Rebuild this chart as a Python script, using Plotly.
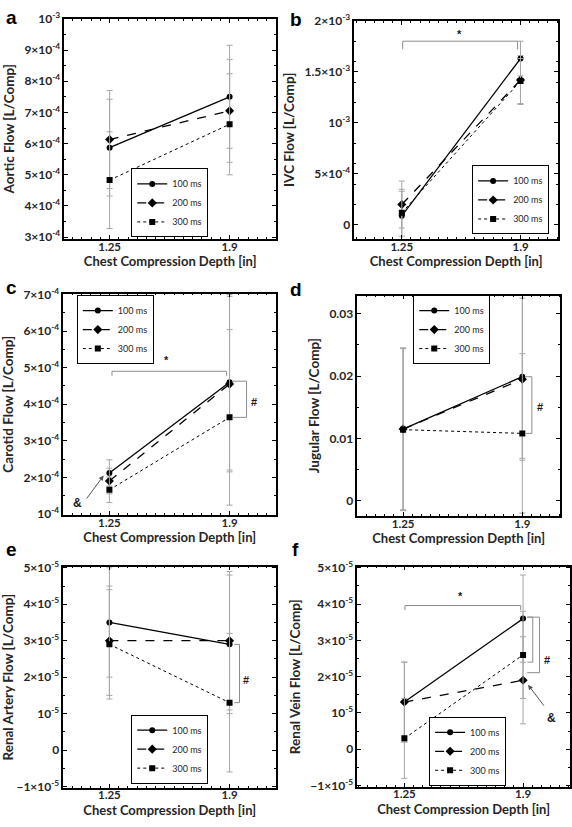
import plotly.graph_objects as go

# ---------------- data ----------------
depth = [1.25, 1.9]
series_names = ["100 ms", "200 ms", "300 ms"]

aortic_100 = [5.87e-4, 7.50e-4]
aortic_200 = [6.13e-4, 7.05e-4]
aortic_300 = [4.83e-4, 6.62e-4]
aortic_err_100 = [1.55e-4, 1.65e-4]
aortic_err_200 = [1.57e-4, 1.65e-4]
aortic_err_300 = [1.55e-4, 1.62e-4]

ivc_100 = [0.9e-4, 1.63e-3]
ivc_200 = [2.0e-4, 1.42e-3]
ivc_300 = [1.2e-4, 1.41e-3]
ivc_err_100 = [2.4e-4, 0.17e-3]
ivc_err_200 = [2.3e-4, 0.24e-3]
ivc_err_300 = [2.3e-4, 0.22e-3]

carotid_100 = [2.12e-4, 4.60e-4]
carotid_200 = [1.90e-4, 4.55e-4]
carotid_300 = [1.66e-4, 3.64e-4]
carotid_err_100 = [0.36e-4, 2.4e-4]
carotid_err_200 = [0.35e-4, 2.4e-4]
carotid_err_300 = [0.35e-4, 2.4e-4]

jugular_100 = [0.0115, 0.0199]
jugular_200 = [0.0115, 0.0195]
jugular_300 = [0.0114, 0.0108]
jugular_err_100 = [0.013, 0.0131]
jugular_err_200 = [0.013, 0.013]
jugular_err_300 = [0.013, 0.0128]

rart_100 = [3.5e-5, 2.9e-5]
rart_200 = [3.0e-5, 3.0e-5]
rart_300 = [2.9e-5, 1.3e-5]
rart_err_100 = [1.5e-5, 1.9e-5]
rart_err_200 = [1.5e-5, 1.9e-5]
rart_err_300 = [1.5e-5, 1.9e-5]

rvein_100 = [1.3e-5, 3.6e-5]
rvein_200 = [1.3e-5, 1.9e-5]
rvein_300 = [0.3e-5, 2.6e-5]
rvein_err_100 = [1.1e-5, 1.2e-5]
rvein_err_200 = [1.1e-5, 1.2e-5]
rvein_err_300 = [1.1e-5, 1.2e-5]

y_titles = ["Aortic Flow [L/Comp]", "IVC Flow [L/Comp]", "Carotid Flow [L/Comp]",
            "Jugular Flow [L/Comp]", "Renal Artery Flow [L/Comp]", "Renal Vein Flow [L/Comp]"]
x_title = "Chest Compression Depth [in]"
panel_letters = ["a", "b", "c", "d", "e", "f"]

a_tickvals = [3e-4, 4e-4, 5e-4, 6e-4, 7e-4, 8e-4, 9e-4, 1e-3]
a_ticktext = ["3×10<sup>-4</sup>", "4×10<sup>-4</sup>", "5×10<sup>-4</sup>", "6×10<sup>-4</sup>",
              "7×10<sup>-4</sup>", "8×10<sup>-4</sup>", "9×10<sup>-4</sup>", "10<sup>-3</sup>"]
b_tickvals = [0, 5e-4, 1e-3, 1.5e-3, 2e-3]
b_ticktext = ["0", "5×10<sup>-4</sup>", "10<sup>-3</sup>", "1.5×10<sup>-3</sup>", "2×10<sup>-3</sup>"]
c_tickvals = [1e-4, 2e-4, 3e-4, 4e-4, 5e-4, 6e-4, 7e-4]
c_ticktext = ["10<sup>-4</sup>", "2×10<sup>-4</sup>", "3×10<sup>-4</sup>", "4×10<sup>-4</sup>",
              "5×10<sup>-4</sup>", "6×10<sup>-4</sup>", "7×10<sup>-4</sup>"]
d_tickvals = [0, 0.01, 0.02, 0.03]
d_ticktext = ["0", "0.01", "0.02", "0.03"]
ef_tickvals = [-1e-5, 0, 1e-5, 2e-5, 3e-5, 4e-5, 5e-5]
ef_ticktext = ["−1×10<sup>-5</sup>", "0", "10<sup>-5</sup>", "2×10<sup>-5</sup>", "3×10<sup>-5</sup>",
               "4×10<sup>-5</sup>", "5×10<sup>-5</sup>"]
x_tickvals = [1.25, 1.9]
x_ticktext = ["1.25", "1.9"]

panels = [
    dict(vals=[aortic_100, aortic_200, aortic_300], errs=[aortic_err_100, aortic_err_200, aortic_err_300],
         xr=[1.005, 2.152], yr=[2.95e-4, 1.0e-3], tv=a_tickvals, tt=a_ticktext,
         dx=[60, 274], dy=[10, 234], leg=(166.5, 197.5)),
    dict(vals=[ivc_100, ivc_200, ivc_300], errs=[ivc_err_100, ivc_err_200, ivc_err_300],
         xr=[0.990, 2.106], yr=[-1.35e-4, 2.0e-3], tv=b_tickvals, tt=b_ticktext,
         dx=[353, 559], dy=[12, 234], leg=(511, 194.5)),
    dict(vals=[carotid_100, carotid_200, carotid_300], errs=[carotid_err_100, carotid_err_200, carotid_err_300],
         xr=[1.001, 2.152], yr=[0.98e-4, 7.02e-4], tv=c_tickvals, tt=c_ticktext,
         dx=[59, 274], dy=[290, 515], leg=(111.5, 326.5)),
    dict(vals=[jugular_100, jugular_200, jugular_300], errs=[jugular_err_100, jugular_err_200, jugular_err_300],
         xr=[1.0, 2.106], yr=[-0.0024, 0.0329], tv=d_tickvals, tt=d_ticktext,
         dx=[356, 561], dy=[292, 516], leg=(451.5, 326.5)),
    dict(vals=[rart_100, rart_200, rart_300], errs=[rart_err_100, rart_err_200, rart_err_300],
         xr=[1.001, 2.152], yr=[-1.03e-5, 5.03e-5], tv=ef_tickvals, tt=ef_ticktext,
         dx=[59, 274], dy=[568, 793], leg=(166.5, 753.8)),
    dict(vals=[rvein_100, rvein_200, rvein_300], errs=[rvein_err_100, rvein_err_200, rvein_err_300],
         xr=[0.992, 2.157], yr=[-1.03e-5, 5.03e-5], tv=ef_tickvals, tt=ef_ticktext,
         dx=[356, 571], dy=[568, 792], leg=(467.5, 756)),
]

W, H = 572, 827
FONT = "Lato"
MARKFONT = "Liberation Sans"
TXT = "#262626"
GRAY = "#8c8c8c"

symbols = ["circle", "diamond", "square"]
msizes = [6, 7, 6]
dashes = ["solid", "dash", "dot"]
lwidths = [1.3, 1.3, 1.0]

fig = go.Figure()
layout = dict(width=W, height=H, margin=dict(l=0, r=0, t=0, b=0),
              plot_bgcolor="white", paper_bgcolor="white",
              font=dict(family=FONT, color=TXT), showlegend=True)
annotations = []
shapes = []

for i, p in enumerate(panels):
    n = "" if i == 0 else str(i + 1)
    xa, ya = "x" + n, "y" + n
    legname = "legend" + n
    bottom_row = i >= 4
    for k in range(3):
        fig.add_trace(go.Scatter(
            x=depth, y=p["vals"][k], name=series_names[k], xaxis=xa, yaxis=ya,
            mode="lines+markers", legend=legname,
            line=dict(color="black", width=lwidths[k], dash=dashes[k]),
            marker=dict(symbol=symbols[k], size=msizes[k], color="black"),
            error_y=dict(type="data", array=p["errs"][k], symmetric=True,
                         color="#a6a6a6", thickness=1, width=3),
            cliponaxis=True,
        ))
    axis_common = dict(showline=True, linecolor="black", linewidth=1.5, mirror="allticks",
                       ticks="inside", ticklen=4, tickcolor="black", tickwidth=1,
                       showgrid=False, zeroline=False)
    layout["xaxis" + n] = dict(
        axis_common, domain=[p["dx"][0] / W, p["dx"][1] / W], range=p["xr"], anchor=ya,
        tickmode="array", tickvals=x_tickvals, ticktext=x_ticktext,
        tickfont=dict(family=FONT, size=11.5, color=TXT, weight="bold"),
        ticklabelstandoff=-4 if bottom_row else -3,
        minor=dict(ticks="inside", ticklen=2, tickcolor="black", dtick=0.05, tick0=1.25),
        title=dict(text=x_title, font=dict(family=FONT, size=13, color=TXT, weight="bold"),
                   standoff=6 if bottom_row else 3),
    )
    layout["yaxis" + n] = dict(
        axis_common, domain=[1 - p["dy"][1] / H, 1 - p["dy"][0] / H], range=p["yr"], anchor=xa,
        tickmode="array", tickvals=p["tv"], ticktext=p["tt"],
        tickfont=dict(family=FONT, size=12, color=TXT, weight="bold"),
        minor=dict(ticks="inside", ticklen=2, tickcolor="black", nticks=3),
        title=dict(text=y_titles[i], font=dict(family=FONT, size=13.5, color=TXT, weight="bold"), standoff=7),
    )
    layout[legname] = dict(
        x=p["leg"][0] / W, y=1 - p["leg"][1] / H, xanchor="center", yanchor="middle",
        bordercolor="black", borderwidth=1, bgcolor="white",
        font=dict(family=FONT, size=9, color=TXT), itemwidth=30, tracegroupgap=0,
    )
    # panel letter
    lx = 7 if p["dx"][0] < 200 else 294
    ly = p["dy"][0] - 1 if i < 2 else p["dy"][0] - 6 if i < 4 else p["dy"][0] - 18
    annotations.append(dict(text=panel_letters[i], x=lx / W, y=1 - ly / H, xref="paper", yref="paper",
                            showarrow=False, xanchor="center", yanchor="middle",
                            font=dict(family=MARKFONT, size=19, color="black", weight="bold")))


def bracket(n, x0, x1, y0, y1, ytop):
    """Open bracket drawn in data coordinates of subplot n."""
    shapes.append(dict(type="path", xref="x" + n, yref="y" + n,
                       path=f"M {x0},{y0} L {x0},{ytop} L {x1},{ytop} L {x1},{y1}",
                       line=dict(color=GRAY, width=1)))


def side_bracket(n, x0, x1, ytop, ybot):
    shapes.append(dict(type="path", xref="x" + n, yref="y" + n,
                       path=f"M {x0},{ytop} L {x1},{ytop} L {x1},{ybot} L {x0},{ybot}",
                       line=dict(color=GRAY, width=1)))


def label(n, text, x, y, size=11):
    annotations.append(dict(text=text, x=x, y=y, xref="x" + n, yref="y" + n, showarrow=False,
                            font=dict(family=MARKFONT, size=size, color="#1a1a1a", weight="bold")))


def arrow_label(n, text, x, y, tipx, tipy, tailx, taily):
    label(n, text, x, y, size=12)
    annotations.append(dict(text="", x=tipx, y=tipy, ax=tailx, ay=taily,
                            xref="x" + n, yref="y" + n, axref="x" + n, ayref="y" + n,
                            showarrow=True, arrowhead=2, arrowsize=1, arrowwidth=1, arrowcolor="#555555"))


# panel b
bracket("2", 1.255, 1.884, 1.72e-3, 1.72e-3, 1.80e-3)
label("2", "*", 1.564, 1.87e-3)
# panel c
bracket("3", 1.264, 1.884, 4.78e-4, 4.78e-4, 4.90e-4)
label("3", "*", 1.557, 5.22e-4)
side_bracket("3", 1.917, 1.992, 4.63e-4, 3.64e-4)
label("3", "#", 2.034, 4.07e-4)
arrow_label("3", "&", 1.075, 1.3e-4, 1.219, 2.05e-4, 1.121, 1.38e-4)
# panel d
side_bracket("4", 1.92, 1.952, 0.0199, 0.0108)
label("4", "#", 1.995, 0.0151)
# panel e
side_bracket("5", 1.925, 1.954, 2.9e-5, 1.3e-5)
label("5", "#", 1.991, 1.91e-5)
# panel f
bracket("6", 1.253, 1.887, 3.83e-5, 3.83e-5, 3.96e-5)
label("6", "*", 1.557, 4.22e-5)
side_bracket("6", 1.923, 1.953, 3.64e-5, 2.4e-5)
side_bracket("6", 1.923, 1.99, 3.64e-5, 2.11e-5)
label("6", "#", 2.03, 2.47e-5)
arrow_label("6", "&", 2.057, 0.86e-5, 1.927, 1.78e-5, 2.02, 1.16e-5)

layout["annotations"] = annotations
layout["shapes"] = shapes
fig.update_layout(**layout)
fig.write_html("out.html", config={"displayModeBar": False},
               post_script="document.body.style.margin='0';document.body.style.overflow='hidden';")
